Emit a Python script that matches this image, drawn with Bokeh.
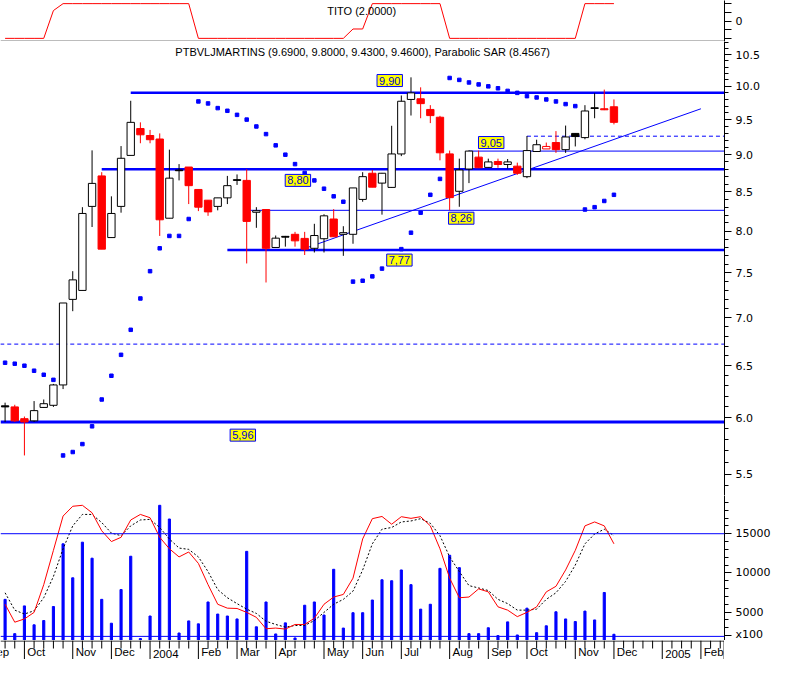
from bokeh.plotting import figure
from bokeh.models import Range1d, FixedTicker, PrintfTickFormatter, Span, Label
from bokeh.layouts import column
from bokeh.core.properties import value
from bokeh.embed import file_html
from bokeh.resources import INLINE

# ---------------- data (weekly bars, Sep 2003 - Dec 2004) ----------------
bars = list(range(64))
opens = [6.11, 6.10, 5.99, 5.97, 6.095, 6.115, 6.31, 7.20, 7.30, 8.31,
         8.71, 7.92, 8.31, 8.99, 9.37, 9.27, 9.22, 8.16, 8.79, 8.83,
         8.53, 8.39, 8.31, 8.42, 8.66, 8.65, 8.235, 8.27, 7.80, 7.935,
         7.96, 7.91, 7.79, 7.906, 8.15, 7.96, 7.96, 8.40, 8.746, 8.614,
         8.557, 9.01, 9.80, 9.81, 9.65, 9.535, 9.011, 8.506, 8.803, 8.966,
         8.825, 8.905, 8.865, 8.842, 8.70, 9.044, 9.08, 9.17, 9.07, 9.30,
         9.24, 9.675, 9.66, 9.69]
highs = [6.14, 6.12, 6.01, 6.155, 6.17, 6.32, 7.16, 7.52, 8.30, 9.06,
         8.76, 8.44, 9.12, 9.78, 9.46, 9.35, 9.30, 9.07, 8.87, 8.83,
         8.53, 8.39, 8.42, 8.71, 8.73, 8.80, 8.30, 8.27, 7.945, 7.94,
         7.99, 7.99, 8.09, 8.21, 8.275, 8.06, 8.55, 8.76, 8.79, 8.75,
         9.41, 9.86, 10.14, 9.985, 9.714, 9.555, 9.057, 8.945, 9.06, 9.057,
         8.945, 8.945, 8.94, 8.89, 9.263, 9.21, 9.17, 9.333, 9.413, 9.30,
         9.714, 9.895, 9.95, 9.80]
lows = [5.96, 5.96, 5.66, 5.96, 6.09, 6.10, 6.27, 7.07, 7.30, 8.05,
        7.78, 7.92, 8.23, 8.99, 9.16, 9.16, 7.94, 8.16, 8.65, 8.34,
        8.25, 8.19, 8.26, 8.34, 8.59, 7.61, 8.04, 7.39, 7.80, 7.81,
        7.81, 7.71, 7.74, 7.74, 7.93, 7.70, 7.845, 8.37, 8.56, 8.205,
        8.55, 8.98, 9.56, 9.52, 9.449, 8.922, 8.26, 8.305, 8.614, 8.82,
        8.82, 8.82, 8.81, 8.724, 8.68, 9.04, 9.08, 9.025, 9.025, 9.115,
        9.216, 9.52, 9.64, 9.43]
closes = [6.10, 5.97, 5.96, 6.065, 6.13, 6.31, 7.16, 7.42, 8.22, 8.61,
          7.78, 8.22, 8.95, 9.46, 9.28, 9.21, 8.14, 8.68, 8.78, 8.58,
          8.30, 8.24, 8.42, 8.58, 8.65, 8.12, 8.255, 7.79, 7.913, 7.925,
          7.88, 7.78, 7.945, 8.19, 7.93, 7.98, 8.55, 8.70, 8.56, 8.746,
          9.01, 9.773, 9.90, 9.737, 9.559, 9.026, 8.423, 8.79, 9.05, 8.82,
          8.90, 8.865, 8.90, 8.746, 9.057, 9.139, 9.115, 9.07, 9.249, 9.255,
          9.627, 9.665, 9.645, 9.46]
sar = [6.53, 6.52, 6.50, 6.45, 6.41, 6.36, 5.66, 5.69, 5.76, 5.92,
       6.17, 6.40, 6.61, 6.87, 7.21, 7.52, 7.79, 7.94, 7.94, 8.15,
       9.77, 9.74, 9.67, 9.63, 9.57, 9.50, 9.40, 9.29, 9.13, 9.00,
       8.87, 8.75, 8.65, 8.54, 8.44, 8.37, 7.40, 7.41, 7.46, 7.55,
       7.67, 7.78, 7.98, 8.23, 8.46, 8.67, 10.13, 10.10, 10.06, 10.03,
       10.00, 9.97, 9.93, 9.90, 9.85, 9.83, 9.80, 9.77, 9.73, 9.70,
       8.27, 8.30, 8.38, 8.46]
volume = [6625, 2250, 5790, 3375, 3920, 5710, 13710, 9375, 13920, 11875,
          6625, 3580, 7875, 12125, 1625, 4500, 18625, 16875, 2330, 3875,
          3500, 6290, 4750, 4500, 4125, 12750, 3125, 6290, 2210, 3625,
          1700, 5875, 6290, 4625, 10460, 2960, 4920, 4920, 6540, 9125,
          9000, 10375, 8500, 5375, 6000, 10580, 12250, 10670, 2250, 2250,
          3000, 2000, 3750, 2080, 5500, 2375, 3250, 5040, 4125, 3790,
          5125, 4000, 7500, 2170]
osc = [6000, 3710, 4125, 4960, 8500, 12875, 17250, 18500, 18625, 17670,
       15375, 14000, 14540, 16750, 17460, 17040, 14540, 13080, 12040, 12670,
       11210, 8500, 6000, 5500, 5460, 4960, 4330, 2875, 2960, 2830,
       3420, 3420, 4210, 6000, 6920, 7250, 9330, 14330, 16920, 17200,
       16210, 17170, 16960, 17170, 16000, 13080, 9330, 6830, 6920, 7960,
       7580, 5670, 5250, 4420, 4960, 5670, 7580, 8290, 10375, 12875,
       16000, 16500, 16000, 13710]
osc_signal = [7460, 5250, 4750, 5170, 6830, 9540, 13080, 16000, 17460, 17460,
              16420, 15080, 14750, 16000, 16750, 16830, 15790, 14330, 13170, 13000,
              12040, 10170, 7875, 6830, 6080, 5375, 4830, 3830, 3420, 3080,
              3290, 3290, 3920, 4960, 6000, 6625, 7670, 10375, 13710, 15580,
              15790, 16500, 16625, 16920, 16330, 14750, 12040, 10170, 8375, 8080,
              7750, 6625, 6080, 5250, 5250, 5375, 6625, 7460, 8920, 11000,
              13710, 14960, 15580, 14750]
tito = [-1, -1, -1, -1, -1, 0.6, 1, 1, 1, 1,
        1, 1, 1, 1, 1, 1, 1, 1, 1, 1,
        -1, -1, -1, -1, -1, -1, -1, -1, -1, -1,
        -1, -1, -1, -1, -1, -1, -0.46, -0.46, 1, 1,
        1, 1, 1, 1, 1, 1, -1, -1, -1, -1,
        -1, -1, -1, -1, -1, -1, -1, -1, -1, -1,
        1, 1, 1, 1]

month_labels = ["Sep", "Oct", "Nov", "Dec", "2004", "Feb", "Mar", "Apr", "May",
                "Jun", "Jul", "Aug", "Sep", "Oct", "Nov", "Dec", "2005", "Feb"]
month_bars = [-2, 2, 7, 11, 15, 20, 24, 28, 33, 37, 41, 46, 50, 54, 59, 63, 68, 72]

thick_levels = [9.90, 8.80, 7.77]
thick_start = [13, 10, 23]
base_level = [5.96]
thin_levels = [9.05, 8.26]
thin_start = [48, 25]
dashed_levels = [9.26, 6.72]
dashed_start = [54, -0.5]
trend_x = [31.06, 72.0]
trend_y = [7.79, 9.66]

tag_texts = ["9,90", "8,80", "9,05", "8,26", "7,77", "5,96"]
tag_x = [39.8, 30.3, 50.3, 47.2, 40.8, 24.6]
tag_y = [10.09, 8.65, 9.17, 8.16, 7.65, 5.84]

price_ticks = [5.5, 6.0, 6.5, 7.0, 7.5, 8.0, 8.5, 9.0, 9.5, 10.0, 10.5]
price_minor = [round(5.4 + 0.1 * k, 1) for k in range(54)]
vol_ticks = [2000, 5000, 10000, 15000]
vol_minor = [1000 * k for k in range(3, 21)]
vol_lines = [15000, 1900]

title_main = "PTBVLJMARTINS (9.6900, 9.8000, 9.4300, 9.4600), Parabolic SAR (8.4567)"
title_tito = "TITO (2.0000)"

# ---------------- styling ----------------
FW = 724
BLUE = "#0000ff"
XR = Range1d(-0.475, 74.44)
SANS = value("Liberation Sans")
AX_FONT = "DejaVu Sans"


def base_fig(h, y_range, ytype="linear"):
    p = figure(frame_width=FW, frame_height=h, x_range=XR, y_range=y_range,
               y_axis_type=ytype, x_axis_location=None, y_axis_location="right",
               output_backend="svg", toolbar_location=None, title=None,
               min_border_left=0, min_border_right=0, min_border_top=0,
               min_border_bottom=0, outline_line_color=None,
               background_fill_color="white", border_fill_color="white")
    p.xgrid.grid_line_color = None
    p.ygrid.grid_line_color = None
    ax = p.yaxis[0]
    ax.axis_line_color = "black"
    ax.major_tick_in = 0
    ax.major_tick_out = 7
    ax.minor_tick_in = 0
    ax.minor_tick_out = 4
    ax.major_label_standoff = 4
    ax.major_label_text_font = AX_FONT
    ax.major_label_text_font_size = "11px"
    ax.major_label_text_color = "black"
    return p


# ---- TITO panel ----
pt = base_fig(41, Range1d(-1.18, 1.18))
pt.yaxis[0].ticker = FixedTicker(ticks=[0], minor_ticks=[-1, -0.5, 0.5, 1])
pt.yaxis[0].minor_tick_out = 7
pt.line(bars, tito, color="red", line_width=1)
pt.add_layout(Span(location=-1.165, dimension="width", line_color="black", line_width=1))
pt.add_layout(Label(x=36.9, y=0.56, text=title_tito, text_align="center",
                    text_baseline="middle", text_font="Liberation Sans",
                    text_font_size="11px", text_color="black"))

# ---- main price panel ----
pm = base_fig(454, Range1d(5.321, 10.716), ytype="log")
pm.yaxis[0].ticker = FixedTicker(ticks=price_ticks, minor_ticks=price_minor)
pm.yaxis[0].formatter = PrintfTickFormatter(format="%.1f")

x_end = XR.end
pm.segment(x0=thick_start, x1=[x_end] * len(thick_levels), y0=thick_levels,
           y1=thick_levels, color=BLUE, line_width=2.5)
pm.segment(x0=[XR.start], x1=[x_end], y0=base_level, y1=base_level,
           color=BLUE, line_width=3)
pm.segment(x0=thin_start, x1=[x_end] * len(thin_levels), y0=thin_levels,
           y1=thin_levels, color=BLUE, line_width=1)
pm.segment(x0=dashed_start, x1=[x_end] * len(dashed_levels), y0=dashed_levels,
           y1=dashed_levels, color=BLUE, line_width=1, line_dash="4 3")
pm.line(trend_x, trend_y, color=BLUE, line_width=1)

cols, fills, tops, bots = [], [], [], []
for i in bars:
    prev = closes[i - 1] if i > 0 else closes[i]
    c = "black" if closes[i] >= prev else "red"
    cols.append(c)
    fills.append("white" if closes[i] > opens[i] else c)
    tops.append(max(opens[i], closes[i]))
    bots.append(min(opens[i], closes[i]))

pm.segment(x0=bars, x1=bars, y0=lows, y1=highs, color=cols, line_width=1)
pm.vbar(x=bars, width=0.76, top=tops, bottom=bots, fill_color=fills,
        line_color=cols, line_width=1)
pm.scatter(bars, sar, marker="square", size=3.5, color=BLUE)

for t, xx, yy in zip(tag_texts, tag_x, tag_y):
    pm.add_layout(Label(x=xx, y=yy, text=t, text_align="center",
                        text_baseline="middle", text_font="Liberation Sans",
                        text_font_size="11px", text_color="#0000cc",
                        background_fill_color="#ffff00", border_line_color=BLUE,
                        border_line_width=1, padding=2))

pm.add_layout(Label(x=37.0, y=10.55, text=title_main, text_align="center",
                    text_baseline="middle", text_font="Liberation Sans",
                    text_font_size="11px", text_color="black"))

# ---- volume panel ----
pv = base_fig(145, Range1d(1375, 19875))
pv.yaxis[0].ticker = FixedTicker(ticks=vol_ticks, minor_ticks=vol_minor)
pv.yaxis[0].formatter = PrintfTickFormatter(format="%d")
pv.yaxis[0].major_label_overrides = {2000: "x100"}
for lv in vol_lines:
    pv.add_layout(Span(location=lv, dimension="width", line_color=BLUE, line_width=1))
pv.vbar(x=bars, width=0.22, top=volume, bottom=0, color=BLUE)
pv.line(bars, osc_signal, color="black", line_width=1, line_dash="2 2")
pv.line(bars, osc, color="red", line_width=1)

# ---- date strip ----
ps = figure(frame_width=FW, frame_height=19, x_range=XR, y_range=Range1d(0, 19),
            x_axis_location=None, y_axis_location=None, output_backend="svg",
            toolbar_location=None, title=None, min_border=0,
            outline_line_color=None)
ps.xgrid.grid_line_color = None
ps.ygrid.grid_line_color = None
ps.add_layout(Span(location=18.5, dimension="width", line_color="black", line_width=1))
all_ticks = [b for b in range(-1, 75) if b not in month_bars]
ps.segment(x0=all_ticks, x1=all_ticks, y0=[19] * len(all_ticks), y1=[11] * len(all_ticks),
           color="black", line_width=1)
ps.segment(x0=month_bars, x1=month_bars, y0=[19] * len(month_bars), y1=[0] * len(month_bars),
           color="black", line_width=1)
ps.text(x=[b + 0.3 for b in month_bars], y=[1.5] * len(month_bars), text=month_labels,
        text_align="left", text_baseline="bottom", text_font=SANS,
        text_font_size="11.5px", text_color="black")
ps.add_layout(Span(location=XR.end - 0.04, dimension="height", line_color="black", line_width=1))

layout = column(pt, pm, pv, ps, spacing=0)
open("out.html", "w").write(file_html(layout, INLINE))
